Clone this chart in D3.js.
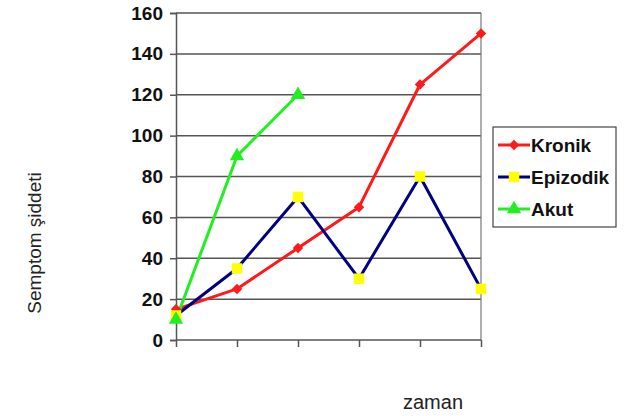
<!DOCTYPE html>
<html>
<head>
<meta charset="utf-8">
<script src="https://cdn.jsdelivr.net/npm/d3@7"></script>
<style>
  body { margin: 0; background: #fff; }
  text { font-family: "Liberation Sans", Arial, sans-serif; }
</style>
</head>
<body>
<div id="chart"></div>
<script>
// Data
const times = [1, 2, 3, 4, 5, 6];
const kronik = [15, 25, 45, 65, 125, 150];
const epizodik = [12, 35, 70, 30, 80, 25];
const akut = [10, 90, 120];
const yTicks = [0, 20, 40, 60, 80, 100, 120, 140, 160];

const series = [
  { name: "Kronik", values: kronik, line: "#ff1a1a", marker: "#ff1a1a", shape: d3.symbolSquare, size: 55, rot: 45 },
  { name: "Epizodik", values: epizodik, line: "#000080", marker: "#ffff00", shape: d3.symbolSquare, size: 110, rot: 0 },
  { name: "Akut", values: akut, line: "#22ee22", marker: "#22ee22", shape: d3.symbolTriangle, size: 90, rot: 0 }
];

const W = 627, H = 416;
const margin = { left: 176, right: 146, top: 13, bottom: 76 };

const svg = d3.select("#chart").append("svg")
  .attr("width", W)
  .attr("height", H);

const x = d3.scalePoint()
  .domain(times)
  .range([margin.left, W - margin.right]);

const y = d3.scaleLinear()
  .domain([0, 160])
  .range([H - margin.bottom, margin.top]);

// gridlines
svg.append("g")
  .selectAll("line")
  .data(yTicks.filter(d => d > 0))
  .enter()
  .append("line")
    .attr("x1", margin.left)
    .attr("x2", W - margin.right)
    .attr("y1", d => y(d))
    .attr("y2", d => y(d))
    .attr("stroke", "#555")
    .attr("stroke-width", 1.5);

// right border of plot area
svg.append("line")
  .attr("x1", W - margin.right).attr("x2", W - margin.right)
  .attr("y1", y(160)).attr("y2", y(0))
  .attr("stroke", "#777").attr("stroke-width", 1.2);

// axes
const yAxis = d3.axisLeft(y).tickValues(yTicks).tickSize(6).tickPadding(7);
const gy = svg.append("g")
  .attr("transform", `translate(${margin.left},0)`)
  .call(yAxis);
gy.select(".domain").attr("stroke", "#555").attr("stroke-width", 1.5);
gy.selectAll(".tick line").attr("stroke", "#555").attr("stroke-width", 1.5);
gy.selectAll(".tick text")
  .attr("font-size", 19)
  .attr("font-weight", "bold")
  .attr("fill", "#111")
  .attr("font-family", "'Liberation Sans', Arial, sans-serif");

const xAxis = d3.axisBottom(x).tickSize(7).tickFormat("");
const gx = svg.append("g")
  .attr("transform", `translate(0,${y(0)})`)
  .call(xAxis);
gx.select(".domain").attr("stroke", "#555").attr("stroke-width", 1.5).attr("d", `M${margin.left},0H${W - margin.right}`);
gx.selectAll(".tick line").attr("stroke", "#555").attr("stroke-width", 1.5);

// lines
const line = d3.line()
  .x((d, i) => x(times[i]))
  .y(d => y(d));

series.forEach(s => {
  svg.append("path")
    .datum(s.values)
    .attr("d", line)
    .attr("fill", "none")
    .attr("stroke", s.line)
    .attr("stroke-width", 3)
    .attr("stroke-linejoin", "round");
});

series.forEach(s => {
  svg.append("g")
    .selectAll("path")
    .data(s.values)
    .enter()
    .append("path")
      .attr("transform", (d, i) => `translate(${x(times[i])},${y(d)}) rotate(${s.rot})`)
      .attr("d", d3.symbol().type(s.shape).size(s.size))
      .attr("fill", s.marker);
});

// legend
const legend = svg.append("g").attr("transform", "translate(493,127)");
legend.append("rect")
  .attr("width", 123).attr("height", 100)
  .attr("fill", "#fff").attr("stroke", "#444").attr("stroke-width", 1.2);

series.forEach((s, i) => {
  const cy = 18 + i * 32;
  const row = legend.append("g").attr("transform", `translate(0,${cy})`);
  row.append("line")
    .attr("x1", 5).attr("x2", 37)
    .attr("stroke", s.line).attr("stroke-width", 3);
  row.append("path")
    .attr("transform", `translate(21,0) rotate(${s.rot})`)
    .attr("d", d3.symbol().type(s.shape).size(s.size))
    .attr("fill", s.marker);
  row.append("text")
    .attr("x", 38).attr("y", 7)
    .attr("font-size", 19)
    .attr("font-weight", "bold")
    .attr("fill", "#111")
    .text(s.name);
});

// axis titles
svg.append("text")
  .attr("transform", "translate(41,243) rotate(-90)")
  .attr("text-anchor", "middle")
  .attr("font-size", 19)
  .attr("fill", "#222")
  .text("Semptom şiddeti");

svg.append("text")
  .attr("x", 433).attr("y", 409)
  .attr("text-anchor", "middle")
  .attr("font-size", 20)
  .attr("fill", "#222")
  .text("zaman");
</script>
</body>
</html>
